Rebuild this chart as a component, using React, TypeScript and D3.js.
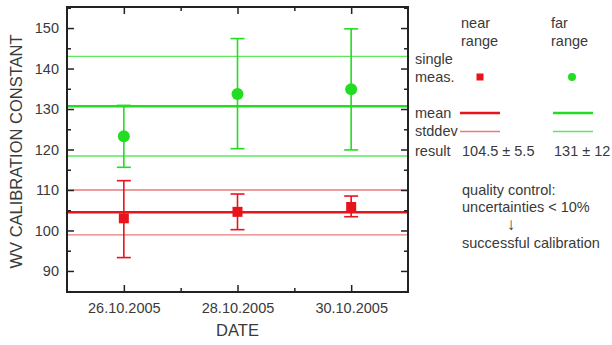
import React, { useRef, useEffect } from 'react';
import * as d3 from 'd3';

const dates = ['2005-10-26', '2005-10-28', '2005-10-30'];
const farValues = [123.3, 133.7, 134.9];
const farUpper = [130.9, 147.4, 149.8];
const farLower = [115.6, 120.2, 119.9];
const nearValues = [103.0, 104.6, 105.8];
const nearUpper = [112.3, 109.0, 108.5];
const nearLower = [93.3, 100.2, 103.4];

// summary lines: mean and mean ± stddev
const farMean = 130.7;
const farStd = [143.0, 118.4];
const nearMean = 104.5;
const nearStd = [110.0, 98.9];

const yMajorTicks = [90, 100, 110, 120, 130, 140, 150];
const yMinorTicks = [85, 95, 105, 115, 125, 135, 145, 155];
const xMajorTicks = ['2005-10-26', '2005-10-28', '2005-10-30'];
const xMinorTicks = ['2005-10-27', '2005-10-29'];

const RED = '#e8141c';
const RED_LIGHT = '#e67d7d';
const GREEN = '#22dd22';
const GREEN_LIGHT = '#5ee85e';
const TEXT = '#3a3a3a';
const FONT = '"Liberation Sans", Arial, sans-serif';

const parse = d3.timeParse('%Y-%m-%d');
const fmt = d3.timeFormat('%d.%m.%Y');

export default function App() {
  const svgRef = useRef<SVGSVGElement>(null);

  useEffect(() => {
    if (!svgRef.current) return;
    const svg = d3.select(svgRef.current);
    svg.selectAll('*').remove();

    const left = 67, right = 408, top = 7, bottom = 292;

    const x = d3.scaleTime()
      .domain([parse('2005-10-25')!, parse('2005-10-31')!])
      .range([left, right]);
    const y = d3.scaleLinear().domain([84.8, 155.2]).range([bottom, top]);

    const g = svg.append('g');

    // mean & stddev lines
    const hline = (v: number, color: string, w: number) =>
      g.append('line')
        .attr('x1', left).attr('x2', right)
        .attr('y1', y(v)).attr('y2', y(v))
        .attr('stroke', color).attr('stroke-width', w);

    farStd.forEach(v => hline(v, GREEN_LIGHT, 1.4));
    nearStd.forEach(v => hline(v, RED_LIGHT, 1.4));
    hline(farMean, GREEN, 2.5);
    hline(nearMean, RED, 2.5);

    // error bars
    const drawErr = (vals: number[], lo: number[], hi: number[], color: string) => {
      dates.forEach((d, i) => {
        const cx = x(parse(d)!);
        g.append('line').attr('x1', cx).attr('x2', cx)
          .attr('y1', y(lo[i])).attr('y2', y(hi[i]))
          .attr('stroke', color).attr('stroke-width', 1.6);
        [lo[i], hi[i]].forEach(v => {
          g.append('line').attr('x1', cx - 7).attr('x2', cx + 7)
            .attr('y1', y(v)).attr('y2', y(v))
            .attr('stroke', color).attr('stroke-width', 1.6);
        });
      });
    };
    drawErr(farValues, farLower, farUpper, GREEN);
    drawErr(nearValues, nearLower, nearUpper, RED);

    // markers
    dates.forEach((d, i) => {
      const cx = x(parse(d)!);
      g.append('circle').attr('cx', cx).attr('cy', y(farValues[i])).attr('r', 6)
        .attr('fill', GREEN);
      g.append('rect').attr('x', cx - 5).attr('y', y(nearValues[i]) - 5)
        .attr('width', 10).attr('height', 10).attr('fill', RED);
    });

    // axes (ticks inward, mirrored on top/right)
    const tickMaj = 7, tickMin = 4;
    const styleAxis = (sel: d3.Selection<SVGGElement, unknown, null, undefined>) => {
      sel.select('.domain').remove();
      sel.selectAll('line').attr('stroke', '#222').attr('stroke-width', 1.5);
      sel.selectAll('text').attr('fill', TEXT).attr('font-family', FONT).attr('font-size', 14.5);
    };

    const yTicksLeft = d3.axisLeft(y).tickValues(yMajorTicks).tickSize(-tickMaj).tickPadding(8);
    g.append('g').attr('transform', `translate(${left},0)`).call(yTicksLeft).call(styleAxis);
    g.append('g').attr('transform', `translate(${left},0)`)
      .call(d3.axisLeft(y).tickValues(yMinorTicks).tickSize(-tickMin).tickFormat(() => ''))
      .call(styleAxis);
    g.append('g').attr('transform', `translate(${right},0)`)
      .call(d3.axisRight(y).tickValues(yMajorTicks).tickSize(-tickMaj).tickFormat(() => ''))
      .call(styleAxis);
    g.append('g').attr('transform', `translate(${right},0)`)
      .call(d3.axisRight(y).tickValues(yMinorTicks).tickSize(-tickMin).tickFormat(() => ''))
      .call(styleAxis);

    const xMaj = xMajorTicks.map(d => parse(d)!);
    const xMin = xMinorTicks.map(d => parse(d)!);
    g.append('g').attr('transform', `translate(0,${bottom})`)
      .call(d3.axisBottom(x).tickValues(xMaj).tickSize(-tickMaj).tickPadding(11)
        .tickFormat(d => fmt(d as Date)))
      .call(styleAxis);
    g.append('g').attr('transform', `translate(0,${bottom})`)
      .call(d3.axisBottom(x).tickValues(xMin).tickSize(-tickMin).tickFormat(() => ''))
      .call(styleAxis);
    g.append('g').attr('transform', `translate(0,${top})`)
      .call(d3.axisTop(x).tickValues(xMaj).tickSize(-tickMaj).tickFormat(() => ''))
      .call(styleAxis);
    g.append('g').attr('transform', `translate(0,${top})`)
      .call(d3.axisTop(x).tickValues(xMin).tickSize(-tickMin).tickFormat(() => ''))
      .call(styleAxis);

    // frame
    g.append('rect').attr('x', left).attr('y', top)
      .attr('width', right - left).attr('height', bottom - top)
      .attr('fill', 'none').attr('stroke', '#222').attr('stroke-width', 2);

    // axis titles
    g.append('text').attr('x', (left + right) / 2).attr('y', 336)
      .attr('text-anchor', 'middle').attr('font-family', FONT).attr('font-size', 16.5)
      .attr('fill', TEXT).text('DATE');
    g.append('text')
      .attr('transform', `translate(22,${(top + bottom) / 2 + 2}) rotate(-90)`)
      .attr('text-anchor', 'middle').attr('font-family', FONT).attr('font-size', 16.5)
      .attr('fill', TEXT).text('WV CALIBRATION CONSTANT');

    // legend
    const txt = (tx: number, ty: number, s: string, anchor = 'start', size = 14.5) =>
      g.append('text').attr('x', tx).attr('y', ty).attr('text-anchor', anchor)
        .attr('font-family', FONT).attr('font-size', size).attr('fill', TEXT).text(s);

    txt(461, 28, 'near');
    txt(461, 46, 'range');
    txt(551, 28, 'far');
    txt(551, 46, 'range');
    txt(415, 64, 'single');
    txt(415, 82, 'meas.');
    g.append('rect').attr('x', 476.5).attr('y', 73.5).attr('width', 7).attr('height', 7).attr('fill', RED);
    g.append('circle').attr('cx', 572).attr('cy', 77).attr('r', 4).attr('fill', GREEN);

    txt(415, 118, 'mean');
    g.append('line').attr('x1', 460).attr('x2', 500).attr('y1', 113).attr('y2', 113)
      .attr('stroke', RED).attr('stroke-width', 2.5);
    g.append('line').attr('x1', 553).attr('x2', 593).attr('y1', 113).attr('y2', 113)
      .attr('stroke', GREEN).attr('stroke-width', 2.5);
    txt(415, 136, 'stddev');
    g.append('line').attr('x1', 460).attr('x2', 500).attr('y1', 131.5).attr('y2', 131.5)
      .attr('stroke', RED_LIGHT).attr('stroke-width', 1.5);
    g.append('line').attr('x1', 553).attr('x2', 593).attr('y1', 131.5).attr('y2', 131.5)
      .attr('stroke', GREEN_LIGHT).attr('stroke-width', 1.5);
    txt(415, 156, 'result');
    txt(462, 156, '104.5 ± 5.5');
    txt(554, 156, '131 ± 12');

    txt(462, 195, 'quality control:');
    txt(462, 212, 'uncertainties < 10%');
    txt(511, 230, '↓', 'middle', 17);
    txt(462, 248, 'successful calibration');
  }, []);

  return (
    <div style={{ position: 'fixed', left: 0, top: 0, background: '#fff' }}>
      <svg ref={svgRef} width={612} height={345} style={{ display: 'block' }} />
    </div>
  );
}
